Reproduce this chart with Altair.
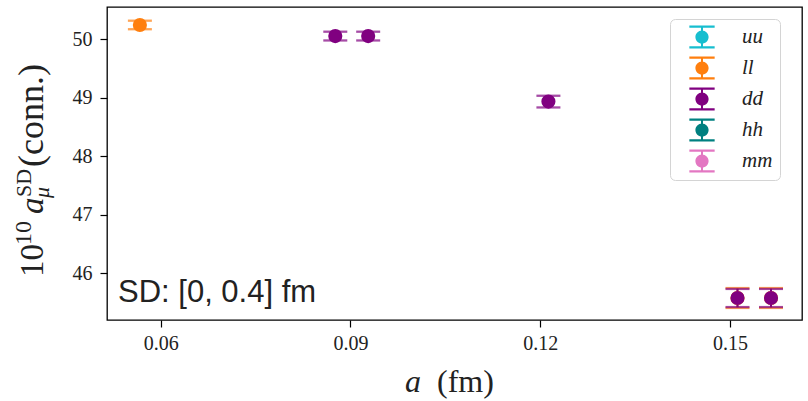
import altair as alt
import pandas as pd

# ---- data ----
series = ["ll", "ll", "ll", "dd", "dd", "dd", "dd", "dd"]
a_fm = [0.0567, 0.1512, 0.1565, 0.0876, 0.0928, 0.1213, 0.1512, 0.1565]
value = [50.24, 45.573, 45.573, 50.05, 50.05, 48.93, 45.573, 45.573]
error = [0.073, 0.17, 0.17, 0.075, 0.075, 0.10, 0.155, 0.155]

legend_order = ["uu", "ll", "dd", "hh", "mm"]
legend_colors = ["#17becf", "#ff7f0e", "#800080", "#008080", "#e377c2"]
x_ticks = [0.06, 0.09, 0.12, 0.15]
y_ticks = [46, 47, 48, 49, 50]
annotation = "SD: [0, 0.4] fm"

df = pd.DataFrame({"series": series, "a": a_fm, "v": value, "err": error})
df["lo"] = df["v"] - df["err"]
df["hi"] = df["v"] + df["err"]
df["order"] = range(len(df))

W, H = 695, 313
SERIF = "Liberation Serif"

xs = alt.Scale(domain=[0.0515, 0.1614], nice=False, zero=False)
ys = alt.Scale(domain=[45.197, 50.547], nice=False, zero=False)
cs = alt.Scale(domain=legend_order, range=legend_colors)

sym = ("M-1.15,-1.05H1.15V-0.85H-1.15Z"
       "M-1.15,0.85H1.15V1.05H-1.15Z"
       "M-0.09,-0.95H0.09V-0.5H-0.09Z"
       "M-0.09,0.5H0.09V0.95H-0.09Z"
       "M0.6,0A0.6,0.6,0,1,1,-0.6,0A0.6,0.6,0,1,1,0.6,0Z")

legend = alt.Legend(
    title=None, orient="none", legendX=563, legendY=12,
    fillColor="white", strokeColor="#d4d4d4", cornerRadius=5,
    padding=7, symbolType=sym, symbolSize=484, symbolStrokeWidth=0,
    symbolFillColor="black", symbolOffset=14, labelOffset=29, rowPadding=7,
    labelFont=SERIF, labelFontStyle="italic", labelFontSize=21,
    labelColor="#222", symbolOpacity=1)

COLOR = alt.Color("series:N", scale=cs, legend=legend)
X = alt.X("a:Q", scale=xs, axis=alt.Axis(values=x_ticks, format=".2f", title=None))
Y = alt.Y("v:Q", scale=ys, axis=alt.Axis(values=y_ticks, format="d", title=None))

base = alt.Chart(df)

bars = base.mark_rule(strokeWidth=2).encode(
    x=X, y=alt.Y("lo:Q", scale=ys), y2="hi:Q", color=COLOR, order="order:Q")
caps_hi = base.mark_tick(orient="horizontal", size=24, thickness=2.3).encode(
    x=X, y=alt.Y("hi:Q", scale=ys), color=COLOR, order="order:Q")
caps_lo = base.mark_tick(orient="horizontal", size=24, thickness=2.3).encode(
    x=X, y=alt.Y("lo:Q", scale=ys), color=COLOR, order="order:Q")
points = base.mark_point(filled=True, size=200, opacity=1).encode(
    x=X, y=Y, color=COLOR, order="order:Q")


def label(text, x, y, size, italic=False, angle=0, font=SERIF):
    kw = dict(align="left", baseline="alphabetic", fontSize=size, font=font,
              color="#222")
    if italic:
        kw["fontStyle"] = "italic"
    if angle:
        kw["angle"] = angle
    return alt.Chart(pd.DataFrame({"t": [text]})).mark_text(**kw).encode(
        text="t:N", x=alt.value(x), y=alt.value(y))


ox, oy = 107, 7  # plot origin in page pixels
texts = [
    label(annotation, 118 - ox, 302 - oy, 31, font="Liberation Sans"),
    # x title
    label("a", 405 - ox, 392 - oy, 32, italic=True),
    label("(fm)", 437 - ox, 392 - oy, 32),
    # y title pieces (rotated)
    label("10", 43 - ox, 277 - oy, 33, angle=270),
    label("10", 31 - ox, 245 - oy, 24, angle=270),
    label("a", 43 - ox, 214 - oy, 33, italic=True, angle=270),
    label("SD", 31 - ox, 197 - oy, 22, angle=270),
    label("μ", 49 - ox, 198 - oy, 22, italic=True, angle=270),
    label("(conn.)", 43 - ox, 167 - oy, 36, angle=270),
]

chart = alt.layer(bars, caps_hi, caps_lo, points, *texts).properties(
    width=W, height=H, autosize="none",
    padding={"left": ox, "top": oy, "right": 808 - ox - W, "bottom": 401 - oy - H},
).configure_view(stroke="black", strokeWidth=1.3).configure_axis(
    domain=False, grid=False, ticks=True, tickColor="black", tickSize=7,
    tickWidth=1.2, labelFont=SERIF, labelFontSize=20, labelColor="#222",
    labelPadding=6,
).configure_axisY(labelPadding=8)

chart.save("out.html", embed_options={"renderer": "svg", "actions": False})
